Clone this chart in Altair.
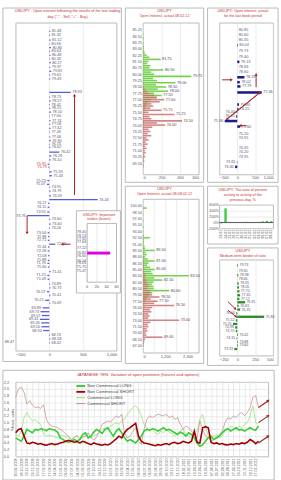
import altair as alt
import pandas as pd

FONT = "Liberation Sans"
RED = "#c83030"
ARROW = "#a82020"
LBL = "#55556e"
GRID = "#dddddd"
FRAME = "#a8a8a8"

# ---------------- Panel 1: OI following last trading day ----------------
p1_price = [81.48, 81.32, 81.12, 80.96, 80.80, 80.64, 80.48, 80.33, 80.17, 79.97, 79.81, 79.65, 79.49,
            78.93,
            78.73, 78.57, 78.41, 78.25, 78.10, 77.94, 77.74, 77.58, 77.42, 77.26, 77.06, 76.90, 76.74, 76.62, 76.42, 76.26, 76.10,
            75.91, 75.79, 75.59, 75.43, 75.23, 75.07, 74.95, 74.79, 74.59, 74.43, 74.27, 74.11, 73.91, 73.76, 73.60, 73.40, 73.24,
            73.04, 72.88, 72.72, 72.56, 72.44, 72.28, 72.08, 71.88, 71.76, 71.60, 71.41, 71.25, 71.09, 70.89, 70.73, 70.57, 70.41, 70.21, 70.09,
            69.89, 69.73, 69.57, 69.41, 69.26, 69.10, 68.94, 68.74, 68.58, 68.42]
p1_oi = [15, 10, 20, 8, 25, 12, 18, 10, 22, 14, 30, 12, 16,
         320,
         12, 20, 10, 15, 25, 8, 18, 12, 20, 10, 14, 22, 10, 16, 150, 30, 20,
         -25, -15, 35, 40, -30, -35, 12, 18, 25, 720, -20, -25, -30, -330, 15, 20, 10,
         -25, -20, -22, 90, -20, -25, -18, -22, -28, -20, 20, -30, -25, 12, 18, -35, 15, -60, 14,
         -100, -130, -110, -140, -120, -115, -90, 10, 15, 12]
p1_red_levels = [75.91, 75.79]
p1_xticks = [-500, 0, 500, 1000]
p1_yticks = [68.47]
p1_arrows = [(375, 74.62, 375, 78.81, 0), (-330, 73.75, -330, 73.03, 180), (317, 72.56, 190, 72.56, 270)]

inset_levels = [78.40, 78.13, 77.92, 77.63, 77.22, 76.82, 76.60, 76.24, 76.05, 75.75, 75.47]
inset_values = [0, 0, 0, 0, 0, 47, 0, 0, 0, 0, 0]
inset_xticks = [0, 20, 40, 60]

# ---------------- Panel 2: OI actual 08.02.12 ----------------
p2_strikes = [85.25, 85.00, 84.75, 84.50, 84.25, 84.00, 83.75, 83.50, 83.25, 83.00, 82.75, 82.50, 82.25, 82.00,
              81.75, 81.50, 81.25, 81.00, 80.75, 80.50, 80.25, 80.00, 79.75, 79.50, 79.25, 79.00, 78.75, 78.50,
              78.25, 78.00, 77.75, 77.50, 77.25, 77.00, 76.75, 76.50, 76.25, 76.00, 75.75, 75.50, 75.25, 75.00,
              74.75, 74.50, 74.25, 74.00, 73.75, 73.50, 73.25, 73.00, 72.75, 72.50, 72.25, 72.00, 71.75, 71.50,
              71.25, 71.00, 70.75, 70.50, 70.25, 70.00, 69.75, 69.50, 69.25, 69.00]
p2_calls = [0, 0, 5, 0, 10, 0, 8, 5, 12, 6, 15, 20,
            40, 70, 190, 60, 45, 80, 70, 220, 90, 120, 520, 110, 150, 350, 140, 250, 160, 270, 120, 200, 150, 90, 60, 40, 30, 25,
            20, 15, 10, 12, 8, 6, 10, 5, 4, 6, 3, 5, 2, 4, 0, 3, 0, 2, 0, 0, 0, 0, 0, 0, 0, 0, 0, 0]
p2_puts = [0, 0, 0, 0, 0, 0, 0, 0, 0, 0, 0, 0, 0, 0, 0, 0, 0, 0, 0, 0, 0, 0, 0, 0, 0, 5, 0, 10,
           20, 40, 60, 120, 150, 230, 180, 90, 110, 80, 200, 60, 340, 70, 90, 420, 150, 240, 100, 60, 80, 50,
           90, 40, 60, 30, 50, 25, 40, 20, 30, 15, 25, 10, 15, 5, 10, 5]
p2_xticks = [0, 200, 400, 600]

# ---------------- Panel 4: OI actual 08.08.02.12 ----------------
p4_strikes = [100.0, 99.5, 99.0, 98.5, 98.0, 97.5, 97.0, 96.5, 96.0, 95.5, 95.0, 94.5, 94.0, 93.5, 93.0, 92.5,
              92.0, 91.5, 91.0, 90.5, 90.0, 89.5, 89.0, 88.5, 88.0, 87.5, 87.0, 86.5, 86.0, 85.5, 85.0, 84.5,
              84.0, 83.5, 83.0, 82.5, 82.0, 81.5, 81.0, 80.5, 80.0, 79.5, 79.0, 78.5, 78.0, 77.5, 77.0, 76.5,
              76.0, 75.5, 75.0, 74.5, 74.0, 73.5, 73.0, 72.5, 72.0, 71.5, 71.0, 70.5, 70.0, 69.5, 69.0, 68.5,
              68.0, 67.5, 67.0]
p4_calls = [0, 210, 0, 0, 20, 0, 0, 30, 0, 0, 40, 0, 20, 0, 60,
            370, 40, 60, 30, 90, 120, 630, 150, 200, 120, 260, 630, 300, 220, 380, 630, 450, 520,
            2470, 600, 1050, 560, 480, 560, 580, 1420, 500, 350, 260, 180, 150,
            120, 90, 100, 60, 50, 70, 40, 30, 50, 20, 30, 20, 10, 15, 10, 0, 5, 0, 0, 0, 0]
p4_puts = [0, 0, 0, 0, 0, 0, 0, 0, 0, 0, 0, 0, 0, 0, 0, 10, 0, 0, 10, 0, 20, 0, 15, 0, 30, 20, 40, 30, 60, 50,
           80, 60, 120, 150, 100, 200, 180, 260, 300, 220, 400, 350, 500,
           890, 420, 790, 600, 1680, 500, 380, 450, 300, 360, 280, 1950,
           400, 260, 300, 200, 240, 150, 180, 1050, 120, 80, 60, 40]
p4_xticks = [0, 600, 1200, 1800, 2400, 3000]

# ---------------- Panel 3: OI for the last book period ----------------
p3_price = [80.85, 80.60, 80.35, 80.04, 79.73, 79.40, 79.13, 78.84, 78.60, 78.29, 78.02, 77.79, 77.46,
            76.80, 76.55, 76.40, 76.15, 75.90, 75.60, 75.20, 74.95, 74.45, 74.20, 73.95, 73.65, 73.40]
p3_oi = [0, 0, 0, 15, 0, 0, 60, 0, 0, 200, 70, 90, 680,
         50, 30, -20, -30, -350, 80, 0, 0, 0, 0, 0, -10, -60]
p3_xticks = [-500, 0, 500, 1000]
p3_arrows = [(-420, 78.15, -160, 78.15, 90), (525, 77.75, 525, 78.45, 0),
             (-290, 76.0, 630, 77.45, 50), (630, 77.45, -290, 76.0, 230),
             (263, 75.65, 80, 75.65, 270)]

# ---------------- Panel 5: ratio of activity, % ----------------
p5_dates = ["23.01", "24.01", "25.01", "26.01", "27.01", "30.01", "31.01",
            "01.02", "02.02", "03.02", "06.02", "07.02", "08.02"]
p5_values = [-30, 480, 15, 10, 8, -12, 20, 6, -15, 12, 35, 55, 40]
p5_yticks = [-200, 0, 200, 400, 600]

# ---------------- Panel 6: medium-term border ----------------
p6_price = [79.73, 79.30, 78.98, 78.66, 78.35, 78.05, 77.75, 77.45, 77.17, 76.91, 76.63, 76.35,
            76.06, 75.80, 75.52, 75.25, 74.98, 74.70, 74.42, 74.15, 73.88, 73.60, 73.33]
p6_oi = [10, 0, 15, 0, 20, 25, 30, 40, 30, 110, 20, 40,
         -15, 375, -20, -60, -30, -20, 10, -10, 10, 10, -40]
p6_xticks = [-250, 0, 250, 500]
p6_arrows = [(-130, 76.96, -25, 76.40, 135), (-130, 76.30, -15, 75.80, 135)]

# ---------------- Bottom: JPY open positions ----------------
p7_names = ["Non Commercial LONG", "Non Commercial SHORT", "Commercial LONG", "Commercial SHORT"]
p7_ncl = [0.55, 0.5, 0.45, 0.6, 0.8, 0.75, 0.7, 0.8, 0.78, 0.82,
          0.8, 0.76, 0.82, 0.8, 0.78, 0.72, 0.55, 0.5, 0.45, 0.42,
          0.45, 0.5, 0.46, 0.5, 0.65, 0.7, 0.55, 0.6, 0.72, 0.8,
          0.75, 0.68, 0.8, 0.85, 0.72, 0.6, 0.75, 0.82, 0.7, 0.55,
          0.45, 0.5, 0.45, 0.4, 0.5, 0.6, 0.75, 0.8, 0.78, 0.82,
          0.8, 0.75, 0.8, 0.85, 0.78, 0.8, 0.75, 0.7, 0.65, 0.72,
          0.68, 0.6, 0.7, 0.65, 0.55, 0.4, 0.3, 0.35, 0.45, 0.55,
          0.6, 0.5, 0.55, 0.6, 0.7, 0.78, 0.82, 0.75, 0.8, 0.85,
          0.78, 0.8, 0.75, 0.8, 0.85, 0.8, 0.78, 0.9]
p7_ncs = [0.7, 0.8, 0.82, 0.6, 0.4, 0.38, 0.42, 0.4, 0.36, 0.38,
          0.35, 0.33, 0.36, 0.38, 0.35, 0.37, 0.4, 0.42, 0.45, 0.48,
          0.45, 0.42, 0.44, 0.4, 0.45, 0.42, 0.38, 0.35, 0.4, 0.37,
          0.35, 0.33, 0.36, 0.34, 0.38, 0.45, 0.52, 0.6, 0.55, 0.7,
          0.8, 0.85, 0.92, 0.98, 0.6, 0.45, 0.4, 0.38, 0.36, 0.34,
          0.32, 0.35, 0.33, 0.36, 0.38, 0.35, 0.4, 0.42, 0.38, 0.4,
          0.45, 0.42, 0.4, 0.45, 0.75, 0.42, 0.4, 0.85, 0.88, 0.85,
          0.42, 0.38, 0.4, 0.36, 0.38, 0.35, 0.34, 0.37, 0.35, 0.38,
          0.36, 0.4, 0.38, 0.42, 0.5, 0.45, 0.38, 0.45]
p7_cl = [0.65, 0.6, 0.75, 1.15, 1.3, 1.15, 1.05, 1.1, 1.0, 0.95,
         0.65, 0.6, 0.62, 0.6, 0.58, 0.55, 0.6, 0.62, 0.58, 0.55,
         0.5, 0.58, 0.6, 0.52, 0.55, 0.62, 0.6, 0.55, 0.6, 0.65,
         0.7, 0.8, 0.85, 0.8, 0.9, 0.95, 1.0, 0.95, 1.05, 1.1,
         1.25, 1.35, 1.45, 1.5, 1.4, 1.2, 0.95, 0.85, 0.75, 0.8,
         0.7, 0.65, 0.75, 0.7, 0.8, 0.72, 0.68, 0.6, 0.7, 0.75,
         0.8, 0.65, 0.6, 0.55, 0.7, 0.75, 1.1, 1.25, 0.9, 0.6,
         0.55, 0.6, 0.65, 0.55, 0.6, 0.75, 0.8, 0.9, 0.85, 0.8,
         0.9, 0.85, 0.95, 1.0, 1.2, 1.5, 1.0, 0.95]
p7_cs = [1.75, 2.0, 2.05, 1.9, 1.55, 1.65, 1.52, 1.45, 1.46, 1.42,
         1.53, 1.1, 0.95, 0.9, 0.88, 0.85, 0.8, 0.75, 0.65, 0.6,
         0.5, 0.55, 0.62, 0.52, 0.58, 0.6, 0.7, 0.55, 0.48, 0.58,
         0.75, 0.95, 1.0, 1.05, 1.02, 1.1, 1.2, 1.15, 1.25, 0.7,
         0.55, 0.6, 0.75, 0.85, 0.45, 0.35, 0.8, 1.1, 1.2, 1.15,
         1.2, 1.25, 1.22, 1.2, 1.25, 1.15, 1.2, 1.1, 1.15, 0.95,
         0.8, 0.9, 0.85, 0.75, 0.6, 0.55, 1.05, 0.8, 0.6, 0.55,
         0.45, 0.5, 0.6, 0.65, 0.75, 1.0, 1.15, 1.1, 1.2, 1.15,
         1.25, 1.3, 1.2, 1.3, 1.45, 1.75, 1.8, 1.45]
p7_fc_from = [1.45, 1.0, 0.4]
p7_fc_to = [1.65, 1.2, 0.6]
p7_yticks = [0.0, 0.2, 0.4, 0.6, 0.8, 1.0, 1.2, 1.4, 1.6, 1.8, 2.0, 2.2]
p7_colors = ["#33cc33", "#a00000", "#9be07e", "#c99494"]
p7_widths = [1.6, 1.6, 0.8, 0.8]

# ======================= helpers =======================
one = pd.DataFrame({"k": [0]})
TXT = dict(font=FONT, fontSize=3.9, color=LBL, baseline="middle")


def box(x1, x2, y1, y2, fill=None):
    kw = dict(stroke=FRAME, strokeWidth=0.8)
    if fill:
        kw["fill"] = fill
    else:
        kw["fillOpacity"] = 0
    return alt.Chart(one).mark_rect(**kw).encode(
        x=alt.value(x1), x2=alt.value(x2), y=alt.value(y1), y2=alt.value(y2))


def title_mark(lines, x, y, size=3.8, lh=5.0):
    return alt.Chart(one).mark_text(align="center", baseline="top", font=FONT, fontSize=size, color=RED,
                                    lineHeight=lh, text=lines).encode(x=alt.value(x), y=alt.value(y))


def arrow_layers(rows, X, Y, width=1.0, size=10):
    df = pd.DataFrame(rows, columns=["ax1", "ay1", "ax2", "ay2", "ang"])
    line = alt.Chart(df).mark_rule(color=ARROW, strokeWidth=width).encode(
        x=X("ax1:Q"), x2="ax2:Q", y=Y("ay1:Q"), y2="ay2:Q")
    head = alt.Chart(df).mark_point(shape="triangle-up", filled=True, size=size, color=ARROW,
                                    opacity=1, strokeWidth=0).encode(
        x=X("ax2:Q"), y=Y("ay2:Q"), angle=alt.Angle("ang:Q", scale=None))
    return [line, head]


def level_panel(price, oi, X, Y, bar_color, bar_size, red_levels=None, fsize=3.9):
    df = pd.DataFrame({"price": price, "oi": oi})
    df["hl"] = df["price"].isin(red_levels or [])
    base = alt.Chart(df)
    bars = base.transform_filter("datum.oi != 0").transform_calculate(z="0").mark_bar(
        size=bar_size, color=bar_color).encode(x=X("oi:Q"), x2="z:Q", y=Y("price:Q"))
    col = alt.condition("datum.hl", alt.value(RED), alt.value(LBL))
    tx = dict(TXT)
    tx["fontSize"] = fsize
    lr = base.transform_filter("datum.oi >= 0").mark_text(align="left", dx=1.5, **tx).encode(
        x=X("oi:Q"), y=Y("price:Q"), text=alt.Text("price:Q", format=".2f"), color=col)
    ll = base.transform_filter("datum.oi < 0").mark_text(align="right", dx=-1.5, **tx).encode(
        x=X("oi:Q"), y=Y("price:Q"), text=alt.Text("price:Q", format=".2f"), color=col)
    return [bars, lr, ll]


# ======================= Panel 1 =======================
p1_xs = alt.Scale(domain=[-500, 1000], nice=False, zero=False)
p1_ys = alt.Scale(domain=[68.30, 81.64], nice=False, zero=False)
p1_xax = alt.Axis(values=p1_xticks, title=None, grid=True, labelFontSize=4.2)
p1_yax = alt.Axis(values=p1_yticks, title=None, grid=False, format=".2f", labelFontSize=3.9,
                  labelColor=LBL, labelPadding=2)


def X1(f):
    return alt.X(f, scale=p1_xs, axis=p1_xax)


def Y1(f):
    return alt.Y(f, scale=p1_ys, axis=p1_yax)


p1_main = alt.layer(
    box(-13, 108, -15, 346),
    title_mark(["USDJPY : Open interest following the results of the last trading",
                'day ("-" - Sell, "+" - Buy)'], 53, -14, size=3.9, lh=6.5),
    *level_panel(p1_price, p1_oi, X1, Y1, "#5a5ad2", 1.3, p1_red_levels),
    *arrow_layers(p1_arrows, X1, Y1),
)

ins_xs = alt.Scale(domain=[0, 60], range=[73, 103], nice=False, zero=False)
ins_ys = alt.Scale(domain=[74.97, 78.71], range=[265, 205], nice=False, zero=False)


def XI(f):
    return alt.X(f, scale=ins_xs, axis=None)


def YI(f):
    return alt.Y(f, scale=ins_ys, axis=None)


ins_df = pd.DataFrame({"price": inset_levels, "v": inset_values})
ins_tick_df = pd.DataFrame({"v": inset_xticks})
p1_inset = alt.layer(
    box(62, 107, 192, 276, fill="white"),
    alt.Chart(ins_tick_df).mark_rule(color=GRID, strokeWidth=0.6).encode(
        x=XI("v:Q"), y=alt.value(205), y2=alt.value(265)),
    box(73, 103, 205, 265),
    alt.Chart(ins_df).transform_filter("datum.v > 0").transform_calculate(z="0").mark_bar(
        size=3, color="#e000e0").encode(x=XI("v:Q"), x2="z:Q", y=YI("price:Q")),
    alt.Chart(ins_df).mark_text(align="right", font=FONT, fontSize=3.8, color=LBL, baseline="middle").encode(
        x=alt.value(72), y=YI("price:Q"), text=alt.Text("price:Q", format=".2f")),
    alt.Chart(ins_tick_df).mark_text(align="center", baseline="top", font=FONT, fontSize=3.9, color="#555").encode(
        x=XI("v:Q"), y=alt.value(268), text="v:Q"),
    title_mark(["USDJPY: Important", "strikes (levels)"], 85, 194),
)

P1 = alt.layer(p1_main, p1_inset).resolve_scale(x="independent", y="independent").properties(
    width=103, height=335)


# ======================= Panel 2 / 4 =======================
def oi_panel(strikes, calls, puts, xdom, xticks, ydom, call_thr, put_thr, h, title_lines, boxy, ty):
    xs = alt.Scale(domain=xdom, nice=False)
    ys = alt.Scale(domain=ydom, nice=False, zero=False)
    xax = alt.Axis(values=xticks, title=None, grid=True, labelFontSize=4.1)
    yax = alt.Axis(values=strikes[::3], title=None, grid=False, format=".2f", labelFontSize=3.9,
                   labelColor=LBL, labelPadding=1.5)

    def X(f):
        return alt.X(f, scale=xs, axis=xax)

    def Y(f):
        return alt.Y(f, scale=ys, axis=yax)

    df = pd.DataFrame({"price": strikes, "call": calls, "put": puts})
    base = alt.Chart(df)
    cb = base.transform_filter("datum.call > 0").transform_calculate(z="0").mark_bar(
        size=1.6, color="#66cc3a", opacity=0.9).encode(x=X("call:Q"), x2="z:Q", y=Y("price:Q"))
    pb = base.transform_filter("datum.put > 0").transform_calculate(z="0").mark_bar(
        size=1.6, color="#cc7070", opacity=0.85).encode(x=X("put:Q"), x2="z:Q", y=Y("price:Q"))
    cl = base.transform_filter("datum.call >= %d" % call_thr).mark_text(
        align="left", dx=1.5, font=FONT, fontSize=3.9, color="#446", baseline="middle").encode(
        x=X("call:Q"), y=Y("price:Q"), text=alt.Text("price:Q", format=".2f"))
    pl = base.transform_filter("datum.put >= %d" % put_thr).mark_text(
        align="left", dx=1.5, font=FONT, fontSize=3.9, color="#644", baseline="middle").encode(
        x=X("put:Q"), y=Y("price:Q"), text=alt.Text("price:Q", format=".2f"))
    return alt.layer(box(*boxy), title_mark(title_lines, 22, ty), cb, pb, cl, pl).properties(
        width=57, height=h)


P2 = oi_panel(p2_strikes, p2_calls, p2_puts, [0, 600], p2_xticks, [68.75, 85.5], 180, 200, 155,
              ["USDJPY", "Open Interest, actual 08.02.12"], (-18, 62, -15, 163), -14)
P4 = oi_panel(p4_strikes, p4_calls, p4_puts, [0, 3000], p4_xticks, [66.5, 100.5], 620, 780, 157,
              ["USDJPY", "Open Interest, actual 08.08.02.12"], (-18, 62, -13, 168), -12)

# ======================= Panel 3 =======================
p3_xs = alt.Scale(domain=[-500, 1000], nice=False, zero=False)
p3_ys = alt.Scale(domain=[73.25, 81.0], nice=False, zero=False)
p3_xax = alt.Axis(values=p3_xticks, title=None, grid=True, labelFontSize=4.1)


def X3(f):
    return alt.X(f, scale=p3_xs, axis=p3_xax)


def Y3(f):
    return alt.Y(f, scale=p3_ys, axis=None)


P3 = alt.layer(
    box(-12, 60, -15, 163),
    title_mark(["USDJPY: Open interest, actual", "for the last book period"], 24, -14),
    *level_panel(p3_price, p3_oi, X3, Y3, "#1c1c8c", 2.6),
    *arrow_layers(p3_arrows, X3, Y3),
).properties(width=55, height=155)

# ======================= Panel 5 =======================
p5_df = pd.DataFrame({"date": p5_dates, "ratio": p5_values})
p5_ys = alt.Scale(domain=[-200, 600], nice=False)
p5_yax = alt.Axis(values=p5_yticks, title=None, grid=True, labelExpr="datum.value + '%'",
                  labelFontSize=3.8, labelPadding=1)
P5 = alt.layer(
    box(-12, 60, -19, 40),
    title_mark(["USDJPY: The ratio of present", "activity to activity of the", "previous day, %"], 24, -17),
    alt.Chart(p5_df).mark_bar(size=2.5, color="#44cc44").encode(
        x=alt.X("date:N", sort=None, axis=alt.Axis(title=None, labelAngle=270, labelFontSize=3.7,
                                                   labelPadding=1, grid=False)),
        y=alt.Y("ratio:Q", scale=p5_ys, axis=p5_yax)),
    alt.Chart(one).transform_calculate(z="0").mark_rule(color="#334", strokeWidth=0.8).encode(
        y=alt.Y("z:Q", scale=p5_ys, axis=p5_yax)),
).properties(width=55, height=24)

# ======================= Panel 6 =======================
p6_xs = alt.Scale(domain=[-250, 500], nice=False, zero=False)
p6_ys = alt.Scale(domain=[73.2, 79.8], nice=False, zero=False)
p6_xax = alt.Axis(values=p6_xticks, title=None, grid=True, labelFontSize=4.1)


def X6(f):
    return alt.X(f, scale=p6_xs, axis=p6_xax)


def Y6(f):
    return alt.Y(f, scale=p6_ys, axis=None)


P6 = alt.layer(
    box(-12, 60, -12, 108),
    title_mark(["USDJPY", "Medium-term border of ratio"], 24, -10.5),
    *level_panel(p6_price, p6_oi, X6, Y6, "#2d8c2d", 2.4, fsize=3.6),
    *arrow_layers(p6_arrows, X6, Y6),
).properties(width=55, height=98)

# ======================= Bottom panel =======================
p7_dates = pd.date_range("2008-09-30", periods=len(p7_ncl), freq="14D")
p7_fc_date = p7_dates[-1] + pd.Timedelta(days=49)
rows = []
for name, vals in zip(p7_names, [p7_ncl, p7_ncs, p7_cl, p7_cs]):
    for d, v in zip(p7_dates, vals):
        rows.append({"date": d.strftime("%Y-%m-%d"), "value": v, "series": name})
p7_df = pd.DataFrame(rows)
fc_df = pd.DataFrame({"d1": [p7_dates[-1].strftime("%Y-%m-%d")] * 3,
                      "d2": [p7_fc_date.strftime("%Y-%m-%d")] * 3,
                      "v1": p7_fc_from, "v2": p7_fc_to})
tick_ms = [int(d.value // 10**6) for d in p7_dates[::2]]

p7_xs = alt.Scale(type="utc", nice=False, padding=0)
p7_ys = alt.Scale(domain=[0, 2.2], nice=False)
p7_xax = alt.Axis(values=tick_ms, labelExpr="utcFormat(datum.value, '%d.%m.%Y')", labelAngle=270,
                  labelFontSize=3.7, title=None, grid=True, labelPadding=1.5)
p7_yax = alt.Axis(values=p7_yticks, format=".1f", title="Share, units", titleFontSize=4.3,
                  titleFont=FONT, titleFontWeight="normal", titleColor="#555",
                  titleX=-3, titleY=38, titleAngle=270, titleAlign="center", titleBaseline="middle",
                  labelFontSize=4, labelPadding=7, grid=True)
color = alt.Color("series:N", scale=alt.Scale(domain=p7_names, range=p7_colors), legend=None)
thin = alt.Chart(p7_df).transform_filter(
    alt.FieldOneOfPredicate(field="series", oneOf=p7_names[2:])).mark_line(strokeWidth=0.8).encode(
    x=alt.X("date:T", scale=p7_xs, axis=p7_xax), y=alt.Y("value:Q", scale=p7_ys, axis=p7_yax), color=color)
thick = alt.Chart(p7_df).transform_filter(
    alt.FieldOneOfPredicate(field="series", oneOf=p7_names[:2])).mark_line(strokeWidth=1.6).encode(
    x=alt.X("date:T", scale=p7_xs, axis=p7_xax), y=alt.Y("value:Q", scale=p7_ys, axis=p7_yax), color=color)
fc_line = alt.Chart(fc_df).mark_rule(color=ARROW, strokeWidth=1.2).encode(
    x=alt.X("d1:T", scale=p7_xs, axis=p7_xax), x2="d2:T",
    y=alt.Y("v1:Q", scale=p7_ys, axis=p7_yax), y2="v2:Q")
fc_head = alt.Chart(fc_df).mark_point(shape="triangle-up", filled=True, size=12, color=ARROW,
                                      opacity=1, strokeWidth=0, angle=55).encode(
    x=alt.X("d2:T", scale=p7_xs, axis=p7_xax), y=alt.Y("v2:Q", scale=p7_ys, axis=p7_yax))

legend_layers = []
for i, (name, c, w) in enumerate(zip(p7_names, p7_colors, p7_widths)):
    ly = 4 + 6 * i
    legend_layers.append(alt.Chart(one).mark_rule(color=c, strokeWidth=w + 0.3).encode(
        x=alt.value(62), x2=alt.value(71), y=alt.value(ly)))
    legend_layers.append(alt.Chart(one).mark_text(align="left", baseline="middle", font=FONT, fontSize=4.3,
                                                  color="#444", text=name).encode(
        x=alt.value(73), y=alt.value(ly)))

P7 = alt.layer(
    box(-13, 264, -12, 100),
    title_mark(["JAPANESE YEN: Variation of open positions (futures and options)"], 125, -9.5, size=4.3),
    thin, thick, fc_line, fc_head, *legend_layers).properties(width=258, height=76)

# ======================= layout =======================
col2 = alt.vconcat(P2, P4, spacing=2)
col3 = alt.vconcat(P3, P5, P6, spacing=2)
top = alt.hconcat(P1, col2, col3, spacing=2)
chart = alt.vconcat(top, P7, spacing=3).properties(
    padding={"left": 2, "top": 2, "right": 2, "bottom": 2}
).configure(font=FONT).configure_view(stroke=FRAME, strokeWidth=0.8).configure_axis(
    labelFont=FONT, labelColor="#555", ticks=False, domain=False, gridColor=GRID, gridWidth=0.6,
    labelPadding=1.5
)

chart.save("out.html", embed_options={"renderer": "svg", "actions": False})
